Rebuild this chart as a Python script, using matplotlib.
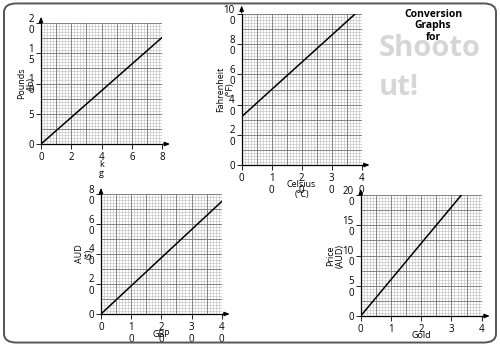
import numpy as np
import matplotlib
matplotlib.use("Agg")
import matplotlib.pyplot as plt
from matplotlib.patches import FancyBboxPatch

plt.rcParams["font.family"] = ["Open Sans", "DejaVu Sans"]

# ── data ──────────────────────────────────────────────────────────────────────
kg_x = [0, 8]
lb_y = [0, 17.6]
kg_xticks = [0, 2, 4, 6, 8]
kg_xlabels = ["0", "2", "4", "6", "8"]
lb_yticks = [0, 5, 10, 15, 20]
lb_ylabels = ["0", "5", "1\n0", "1\n5", "2\n0"]

cel_x = [0, 37.8]
fah_y = [32, 100]
cel_xticks = [0, 10, 20, 30, 40]
cel_xlabels = ["0", "1\n0", "2\n0", "3\n0", "4\n0"]
fah_yticks = [0, 20, 40, 60, 80, 100]
fah_ylabels = ["0", "2\n0", "4\n0", "6\n0", "8\n0", "10\n0"]

gbp_x = [0, 40]
aud_y = [0, 75]
gbp_xticks = [0, 10, 20, 30, 40]
gbp_xlabels = ["0", "1\n0", "2\n0", "3\n0", "4\n0"]
aud_yticks = [0, 20, 40, 60, 80]
aud_ylabels = ["0", "2\n0", "4\n0", "6\n0", "8\n0"]

gold_x = [0, 3.33]
price_y = [0, 200]
gold_xticks = [0, 1, 2, 3, 4]
gold_xlabels = ["0", "1", "2", "3", "4"]
price_yticks = [0, 50, 100, 150, 200]
price_ylabels = ["0", "5\n0", "10\n0", "15\n0", "20\n0"]


def graph_paper(ax, xmax, ymax, xcells, ycells, sub=5):
    # fine lines first, then the darker major cells
    for v in np.linspace(0, xmax, xcells * sub + 1):
        ax.axvline(v, color="#bdbdbd", lw=0.4, zorder=0)
    for v in np.linspace(0, ymax, ycells * sub + 1):
        ax.axhline(v, color="#bdbdbd", lw=0.4, zorder=0)
    for v in np.linspace(0, xmax, xcells + 1):
        ax.axvline(v, color="#7f7f7f", lw=0.65, zorder=1)
    for v in np.linspace(0, ymax, ycells + 1):
        ax.axhline(v, color="#7f7f7f", lw=0.65, zorder=1)


def conv_chart(fig, rect, x, y, xmax, ymax, xcells, ycells,
               xticks, xlabels, yticks, ylabels, xlabel, ylabel,
               xlab_pos, ylab_pos):
    ax = fig.add_axes(rect)
    ax.set_xlim(0, xmax)
    ax.set_ylim(0, ymax)
    graph_paper(ax, xmax, ymax, xcells, ycells)
    ax.plot(x, y, color="black", lw=1.1, zorder=3)
    ax.set_xticks(xticks)
    ax.set_xticklabels(xlabels, linespacing=1.05)
    ax.set_yticks(yticks)
    ax.set_yticklabels(ylabels, linespacing=1.05)
    ax.tick_params(labelsize=7, length=3.5, width=0.6, colors="black")
    ax.tick_params(axis="x", pad=2.5)
    ax.tick_params(axis="y", pad=1.5)
    for s in ("top", "right"):
        ax.spines[s].set_visible(False)
    for s in ("left", "bottom"):
        ax.spines[s].set_linewidth(0.9)
    # arrow heads on the axes
    ax.annotate("", xy=(1.09, 0), xytext=(0.99, 0), xycoords="axes fraction",
                arrowprops=dict(arrowstyle="-|>,head_length=0.3,head_width=0.12",
                                color="black", lw=0.9), annotation_clip=False)
    ax.annotate("", xy=(0, 1.075), xytext=(0, 0.99), xycoords="axes fraction",
                arrowprops=dict(arrowstyle="-|>,head_length=0.3,head_width=0.12",
                                color="black", lw=0.9), annotation_clip=False)
    ax.set_xlabel(xlabel, fontsize=6.5, linespacing=1.1)
    ax.set_ylabel(ylabel, fontsize=6.5, linespacing=1.1)
    ax.xaxis.set_label_coords(0.5, xlab_pos)
    ax.yaxis.set_label_coords(ylab_pos, 0.5)
    return ax


fig = plt.figure(figsize=(5, 3.46), dpi=100)

border = FancyBboxPatch((0.008, 0.01), 0.984, 0.98,
                        boxstyle="round,pad=0,rounding_size=0.025",
                        transform=fig.transFigure, fill=False,
                        edgecolor="#555555", lw=1.4)
fig.patches.append(border)

conv_chart(fig, [0.082, 0.5838, 0.242, 0.3497], kg_x, lb_y, 8, 20, 8, 8,
           kg_xticks, kg_xlabels, lb_yticks, lb_ylabels,
           "k\ng", "Pounds\n(lb)", -0.13, -0.045)
conv_chart(fig, [0.4833, 0.5231, 0.24, 0.4364], cel_x, fah_y, 40, 100, 8, 10,
           cel_xticks, cel_xlabels, fah_yticks, fah_ylabels,
           "Celsius\n(°C)", "Fahrenheit\n(°F)", -0.1, -0.06)
conv_chart(fig, [0.202, 0.0925, 0.2414, 0.3468], gbp_x, aud_y, 40, 80, 8, 8,
           gbp_xticks, gbp_xlabels, aud_yticks, aud_ylabels,
           "GBP", "AUD\n($)", -0.135, -0.06)
conv_chart(fig, [0.7214, 0.0867, 0.242, 0.3497], gold_x, price_y, 4, 200, 8, 8,
           gold_xticks, gold_xlabels, price_yticks, price_ylabels,
           "Gold", "Price\n(AUD)", -0.125, -0.13)

fig.text(0.866, 0.975, "Conversion\nGraphs\nfor", ha="center", va="top",
         fontsize=7.5, fontweight="bold", linespacing=1.1)
fig.text(0.757, 0.86, "Shooto", ha="left", va="center", fontsize=21,
         fontweight="bold", color="#d6d6d6")
fig.text(0.757, 0.748, "ut!", ha="left", va="center", fontsize=21,
         fontweight="bold", color="#d6d6d6")

fig.savefig("out.png", dpi=100)
